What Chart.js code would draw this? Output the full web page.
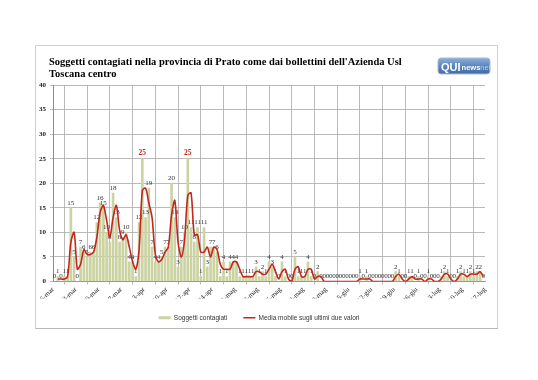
<!DOCTYPE html>
<html><head><meta charset="utf-8">
<script src="https://cdn.jsdelivr.net/npm/chart.js@4.4.0/dist/chart.umd.min.js"></script>
<style>html,body{margin:0;padding:0;background:#fff;}#wrap{position:absolute;left:0;top:0;width:538px;height:380px;}</style>
</head><body><div id="wrap"><canvas id="c" width="538" height="380"></canvas></div>
<script>
const titleLines = ["Soggetti contagiati nella provincia di Prato come dai bollettini dell'Azienda Usl", "Toscana centro"];
const seriesNames = ["Soggetti contagiati", "Media mobile sugli ultimi due valori"];
const tickLabels = ['6-mar','13-mar','20-mar','27-mar','3-apr','10-apr','17-apr','24-apr','1-mag','8-mag','15-mag','22-mag','29-mag','5-giu','12-giu','19-giu','26-giu','3-lug','10-lug','17-lug'];
const yTicks = [0,5,10,15,20,25,30,35,40];
// daily cases, from 6-mar
const cases = [
 0,1,0,1,1,15,5,
 0,7,6,5,6,6,12,
 16,15,10,8,18,13,8,
 9,10,4,4,1,12,25,
 13,19,7,4,4,5,7,
 7,20,13,3,7,10,25,
 11,8,11,1,11,3,7,
 7,6,1,4,1,4,4,
 4,1,1,1,1,1,3,
 1,2,1,4,3,1,0,
 4,1,0,0,5,1,1,
 1,4,1,0,2,0,0,
 0,0,0,0,0,0,0,
 0,0,0,1,0,1,0,
 0,0,0,0,0,0,0,
 2,1,0,0,1,1,0,
 1,0,0,1,0,0,0,
 1,2,1,0,0,1,2,
 1,1,2,1,2,2,0
];
// moving average over last two values
const movingAvg = [
 null,0.5,0.5,0.5,1,8,10,
 2.5,3.5,6.5,5.5,5.5,6,9,
 14,15.5,12.5,9,13,15.5,10.5,
 8.5,9.5,7,4,2.5,6.5,18.5,
 19,16,13,5.5,4,4.5,6,
 7,13.5,16.5,8,5,8.5,17.5,
 18,9.5,9.5,6,6,7,5,
 7,6.5,3.5,2.5,2.5,2.5,4,
 4,2.5,1,1,1,1,2,
 2,1.5,1.5,2.5,3.5,2,0.5,
 2,2.5,0.5,0,2.5,3,1,
 1,2.5,2.5,0.5,1,1,0,
 0,0,0,0,0,0,0,
 0,0,0,0.5,0.5,0.5,0.5,
 0,0,0,0,0,0,0,
 1,1.5,0.5,0,0.5,1,0.5,
 0.5,0.5,0,0.5,0.5,0,0,
 0.5,1.5,1.5,0.5,0,0.5,1.5,
 1.5,1,1.5,1.5,1.5,2,1
];

const BAR = '#cbd3a2';
const RED = '#c3261c';
const SERIF = '"Liberation Serif", "Times New Roman", serif';

const barPts = cases.map((v,i)=>({x:i+0.5,y:v}));
const linePts = movingAvg.map((v,i)=>({x:i+0.5,y:v}));

const header = {
  id:'header',
  beforeDraw(chart){
    const ctx = chart.ctx;
    ctx.save();
    ctx.fillStyle='#fff'; ctx.fillRect(0,0,chart.width,chart.height);
    // frame
    ctx.strokeStyle='#d0d0d0'; ctx.lineWidth=1;
    ctx.strokeRect(35.5,45.5,462,283);
    ctx.strokeStyle='#b8b8b8';
    ctx.beginPath(); ctx.moveTo(36,328.5); ctx.lineTo(498,328.5); ctx.stroke();
    // title
    ctx.fillStyle='#000';
    ctx.font='bold 10.5px ' + SERIF;
    ctx.textBaseline='alphabetic'; ctx.textAlign='left';
    ctx.fillText(titleLines[0], 49, 65);
    ctx.fillText(titleLines[1], 49, 77);
    // logo
    const lx=438, ly=58, lw=52, lh=16;
    const g = ctx.createLinearGradient(0,ly,0,ly+lh);
    g.addColorStop(0,'#8fb0d8'); g.addColorStop(0.5,'#5b86bd'); g.addColorStop(1,'#3f6aa6');
    ctx.fillStyle=g;
    ctx.beginPath();
    if (ctx.roundRect) ctx.roundRect(lx,ly,lw,lh,3); else ctx.rect(lx,ly,lw,lh);
    ctx.fill();
    ctx.strokeStyle='#a8bcd6'; ctx.lineWidth=1; ctx.stroke();
    ctx.fillStyle='#ffffff';
    ctx.font='bold 11px "Liberation Sans", Arial, sans-serif';
    ctx.fillText('QUI', lx+3, ly+12.5);
    let w = ctx.measureText('QUI').width;
    ctx.font='bold 7.5px "Liberation Sans", Arial, sans-serif';
    ctx.fillText('news', lx+4+w, ly+12);
    let w2 = ctx.measureText('news').width;
    ctx.fillStyle='#b8d0ee';
    ctx.font='7.5px "Liberation Sans", Arial, sans-serif';
    ctx.fillText('net', lx+4+w+w2, ly+12);
    ctx.restore();
  }
};

const dataLabels = {
  id:'dataLabels',
  afterDatasetDraw(chart, args){
    if (args.index !== 0) return;
    const ctx = chart.ctx;
    const meta = args.meta;
    ctx.save();
    ctx.textAlign='center'; ctx.textBaseline='bottom';
    meta.data.forEach((el,i)=>{
      const v = cases[i];
      if (v >= 25) { ctx.font='bold 7.5px ' + SERIF; ctx.fillStyle=RED; }
      else { ctx.font='7px ' + SERIF; ctx.fillStyle='#333'; }
      ctx.fillText(String(v), el.x, el.y - 1.5);
    });
    ctx.restore();
  }
};

new Chart(document.getElementById('c'), {
  data:{
    datasets:[
      {type:'bar', label:seriesNames[0], data:barPts, backgroundColor:BAR, borderWidth:0, barThickness:2, order:2},
      {type:'line', label:seriesNames[1], data:linePts, borderColor:RED, backgroundColor:RED, borderWidth:1.6, pointRadius:0, tension:0.3, spanGaps:false, order:1}
    ]
  },
  plugins:[header, dataLabels],
  options:{
    responsive:false, animation:false, devicePixelRatio:1,
    layout:{padding:{left:33, right:53, top:85, bottom:49}},
    plugins:{
      tooltip:{enabled:false},
      title:{display:false},
      legend:{
        position:'bottom',
        labels:{
          usePointStyle:true, pointStyleWidth:12, padding:16,
          font:{family:'"Liberation Sans", Arial, sans-serif', size:6.5}, color:'#333',
          generateLabels(chart){
            return [
              {text:seriesNames[0], fillStyle:BAR, strokeStyle:BAR, lineWidth:3, pointStyle:'line', hidden:false, datasetIndex:0, fontColor:'#333'},
              {text:seriesNames[1], fillStyle:RED, strokeStyle:RED, lineWidth:1.5, pointStyle:'line', hidden:false, datasetIndex:1, fontColor:'#333'}
            ];
          }
        }
      }
    },
    scales:{
      x:{
        type:'linear', min:0, max:133, offset:false,
        afterFit(s){ s.height = 17; },
        ticks:{stepSize:7, autoSkip:false, maxRotation:45, minRotation:45, padding:1,
          font:{family:SERIF, size:7}, color:'#222',
          callback:(v)=> tickLabels[Math.round(v/7)] || ''},
        grid:{color:'#a8a8a8', lineWidth:0.8, tickLength:3},
        border:{color:'#8c8c8c', width:1}
      },
      y:{
        min:0, max:40,
        afterFit(s){ s.width = 20; },
        afterBuildTicks(s){ s.ticks = yTicks.map(v=>({value:v})); },
        ticks:{font:{family:SERIF, size:7, weight:'bold'}, color:'#222', padding:4},
        grid:{color:'#a8a8a8', lineWidth:0.8, tickLength:3},
        border:{color:'#8c8c8c', width:1}
      }
    }
  }
});
</script>
</body></html>
